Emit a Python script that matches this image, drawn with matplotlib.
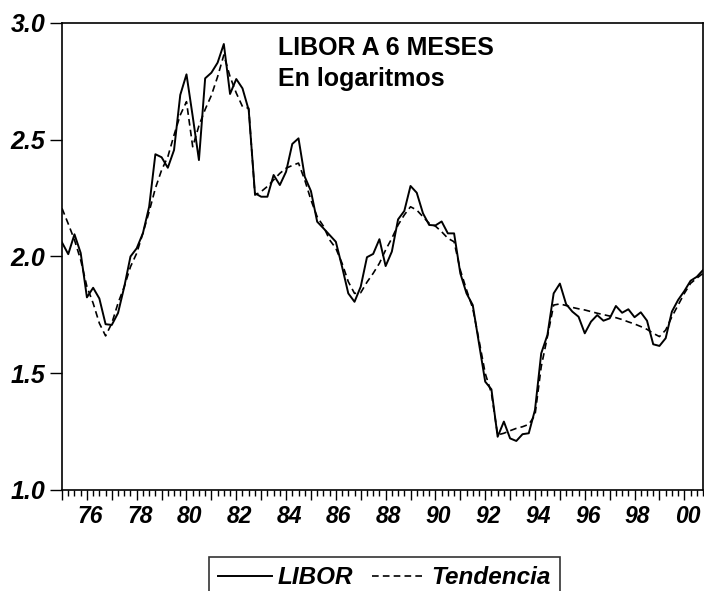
import numpy as np
import matplotlib
matplotlib.use("Agg")
import matplotlib.pyplot as plt
from matplotlib.ticker import MultipleLocator, FixedLocator

plt.rcParams["font.family"] = ["Liberation Sans", "DejaVu Sans"]

# trimestral 1975Q1 - 2000Q4
t = np.arange(1975, 2001, 0.25)

libor = [2.06, 2.01, 2.095, 2.015, 1.825, 1.866, 1.82, 1.71, 1.707, 1.758,
         1.87, 2.0, 2.035, 2.10, 2.213, 2.438, 2.425, 2.38, 2.456, 2.692,
         2.78, 2.6, 2.413, 2.763, 2.787, 2.83, 2.91, 2.696, 2.76, 2.72,
         2.627, 2.271, 2.256, 2.256, 2.349, 2.306, 2.363, 2.482, 2.506, 2.342,
         2.28, 2.149, 2.121, 2.092, 2.063, 1.956, 1.842, 1.806, 1.871, 1.997,
         2.011, 2.074, 1.959, 2.021, 2.159, 2.195, 2.302, 2.273, 2.185, 2.135,
         2.133, 2.15, 2.099, 2.099, 1.928, 1.842, 1.792, 1.628, 1.464, 1.431,
         1.228, 1.293, 1.221, 1.21, 1.239, 1.243, 1.343, 1.585, 1.664, 1.842,
         1.884, 1.796, 1.764, 1.742, 1.671, 1.721, 1.749, 1.725, 1.735, 1.788,
         1.759, 1.774, 1.74, 1.761, 1.725, 1.624, 1.617, 1.65, 1.764, 1.814,
         1.852, 1.896, 1.913, 1.942]

tendencia = [2.206, 2.14, 2.071, 1.985, 1.871, 1.80, 1.714, 1.66, 1.714, 1.80,
             1.871, 1.956, 2.014, 2.10, 2.192, 2.292, 2.37, 2.427, 2.52, 2.606,
             2.663, 2.47, 2.56, 2.63, 2.69, 2.77, 2.863, 2.77, 2.70, 2.642,
             2.635, 2.263, 2.278, 2.30, 2.328, 2.356, 2.378, 2.39, 2.40, 2.328,
             2.242, 2.17, 2.13, 2.071, 2.035, 1.971, 1.892, 1.842, 1.845, 1.89,
             1.928, 1.971, 2.028, 2.078, 2.135, 2.178, 2.213, 2.199, 2.17, 2.142,
             2.13, 2.106, 2.078, 2.063, 1.942, 1.857, 1.778, 1.642, 1.50, 1.414,
             1.236, 1.243, 1.254, 1.264, 1.271, 1.281, 1.32, 1.528, 1.657, 1.792,
             1.797, 1.79, 1.782, 1.776, 1.771, 1.764, 1.757, 1.751, 1.745, 1.738,
             1.73, 1.72, 1.711, 1.70, 1.688, 1.671, 1.657, 1.685, 1.742, 1.792,
             1.842, 1.885, 1.907, 1.928]

year_ticks = list(range(1976, 2001, 2))
year_labels = ["76", "78", "80", "82", "84", "86", "88", "90", "92", "94", "96", "98", "00"]
y_ticks = [1.0, 1.5, 2.0, 2.5, 3.0]

fig = plt.figure(figsize=(7.04, 5.91), dpi=100)
ax = fig.add_axes([0.0881, 0.1709, 0.9105, 0.7902])

ax.plot(t, libor, color="black", lw=1.4, label="LIBOR")
ax.plot(t, tendencia, color="black", lw=1.2, ls=(0, (4, 2.5)), label="Tendencia")

ax.set_xlim(1975, 2000.75)
ax.set_ylim(1.0, 3.0)

ax.xaxis.set_major_locator(MultipleLocator(1))
ax.xaxis.set_minor_locator(MultipleLocator(0.25))
ax.xaxis.set_major_formatter(plt.NullFormatter())
ax.tick_params(axis="x", which="major", length=7, width=1, direction="out")
ax.tick_params(axis="x", which="minor", length=4, width=1, direction="out")

for yr, lab in zip(year_ticks, year_labels):
    ax.text(yr + 0.12, -0.032, lab, transform=ax.get_xaxis_transform(),
            ha="center", va="top", fontsize=16.5, fontweight="bold", fontstyle="italic")

ax.yaxis.set_major_locator(FixedLocator(y_ticks))
ax.set_yticklabels([f"{v:.1f}" for v in y_ticks], fontsize=18,
                   fontweight="bold", fontstyle="italic")
ax.tick_params(axis="y", length=9, width=1, direction="out", pad=3)

for s in ax.spines.values():
    s.set_linewidth(1.2)

fig.text(0.395, 0.9069, "LIBOR A 6 MESES", fontsize=18, fontweight="bold", va="baseline")
fig.text(0.395, 0.8545, "En logaritmos", fontsize=18, fontweight="bold", va="baseline")

leg = fig.legend(loc="upper center", bbox_to_anchor=(0.546, 0.058), ncol=2,
                 frameon=True, fancybox=False, edgecolor="black",
                 prop={"size": 17.5, "weight": "bold", "style": "italic"},
                 handlelength=2.2, handletextpad=0.25, columnspacing=0.75,
                 borderpad=0.4, borderaxespad=0)
leg.get_frame().set_linewidth(1.2)

fig.savefig("out.png", dpi=100)
